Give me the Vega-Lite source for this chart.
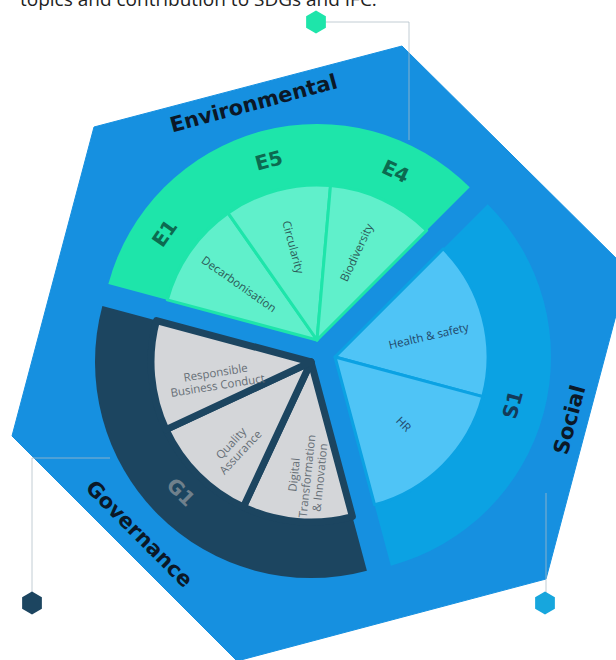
{
  "$schema": "https://vega.github.io/schema/vega-lite/v6.json",
  "width": 616,
  "height": 660,
  "padding": 0,
  "autosize": {"type": "none"},
  "background": "white",
  "config": {"view": {"stroke": null}},
  "datasets": {
    "hex": [
      {"i": 0, "x": -226, "y": 226},
      {"i": 1, "x": 82, "y": 307},
      {"i": 2, "x": 308, "y": 83},
      {"i": 3, "x": 226, "y": -226},
      {"i": 4, "x": -83, "y": -308},
      {"i": 5, "x": -308, "y": -83}
    ],
    "links": [
      {"line": "top", "i": 0, "x": -4, "y": 331},
      {"line": "top", "i": 1, "x": 89, "y": 331},
      {"line": "top", "i": 2, "x": 89, "y": 213},
      {"line": "gov", "i": 0, "x": -288, "y": -250},
      {"line": "gov", "i": 1, "x": -288, "y": -105},
      {"line": "gov", "i": 2, "x": -210, "y": -105},
      {"line": "soc", "i": 0, "x": 226, "y": -250},
      {"line": "soc", "i": 1, "x": 226, "y": -140}
    ],
    "markers": [
      {"pillar": "Environmental", "x": -4, "y": 331},
      {"pillar": "Governance", "x": -288, "y": -250},
      {"pillar": "Social", "x": 225, "y": -250}
    ],
    "pillars": [
      {"pillar": "Environmental", "cx": -3, "cy": 13, "a0": 285, "a1": 405, "mid": 345},
      {"pillar": "Social", "cx": 15, "cy": -4, "a0": 45, "a1": 165, "mid": 105},
      {"pillar": "Governance", "cx": -9, "cy": -9, "a0": 165, "a1": 285, "mid": 225}
    ],
    "topics": [
      {"pillar": "Environmental", "code": "E1", "topic": "Decarbonisation", "a0": 285, "a1": 325, "mid": 305},
      {"pillar": "Environmental", "code": "E5", "topic": "Circularity", "a0": 325, "a1": 365, "mid": 345},
      {"pillar": "Environmental", "code": "E4", "topic": "Biodiversity", "a0": 365, "a1": 405, "mid": 385},
      {"pillar": "Social", "code": "S1", "topic": "Health & safety", "a0": 45, "a1": 105, "mid": 78},
      {"pillar": "Social", "code": "S1", "topic": "HR", "a0": 105, "a1": 165, "mid": 135},
      {"pillar": "Governance", "code": "G1", "topic": "Digital\nTransformation\n& Innovation", "a0": 165, "a1": 205, "mid": 188},
      {"pillar": "Governance", "code": "G1", "topic": "Quality\nAssurance", "a0": 205, "a1": 245, "mid": 224},
      {"pillar": "Governance", "code": "G1", "topic": "Responsible\nBusiness Conduct", "a0": 245, "a1": 285, "mid": 263}
    ],
    "codes": [
      {"pillar": "Environmental", "code": "E1", "mid": 305},
      {"pillar": "Environmental", "code": "E5", "mid": 345},
      {"pillar": "Environmental", "code": "E4", "mid": 385},
      {"pillar": "Social", "code": "S1", "mid": 105},
      {"pillar": "Governance", "code": "G1", "mid": 225}
    ],
    "caption": [
      {"text": "topics and contribution to SDGs and IFC."}
    ]
  },
  "layer": [
    {
      "data": {"name": "hex"},
      "mark": {"type": "line", "interpolate": "linear-closed", "fill": "#1690e0", "stroke": "#1690e0", "strokeWidth": 1},
      "encoding": {
        "x": {"field": "x", "type": "quantitative", "scale": {"domain": [-320, 296], "nice": false, "zero": false}, "axis": null},
        "y": {"field": "y", "type": "quantitative", "scale": {"domain": [-307, 353], "nice": false, "zero": false}, "axis": null},
        "order": {"field": "i", "type": "quantitative"}
      }
    },
    {
      "data": {"name": "links"},
      "mark": {"type": "line", "color": "#aebcc6", "strokeWidth": 1, "opacity": 0.75},
      "encoding": {
        "x": {"field": "x", "type": "quantitative", "axis": null},
        "y": {"field": "y", "type": "quantitative", "axis": null},
        "detail": {"field": "line"},
        "order": {"field": "i", "type": "quantitative"}
      }
    },
    {
      "data": {"name": "markers"},
      "mark": {"type": "point", "shape": "M0,-1L0.866,-0.5L0.866,0.5L0,1L-0.866,0.5L-0.866,-0.5Z", "filled": true, "size": 520, "opacity": 1},
      "encoding": {
        "x": {"field": "x", "type": "quantitative", "axis": null},
        "y": {"field": "y", "type": "quantitative", "axis": null},
        "color": {"field": "pillar", "type": "nominal", "legend": null, "scale": {"domain": ["Environmental", "Social", "Governance"], "range": ["#1ee5aa", "#17a6dd", "#1c4560"]}}
      }
    },
    {
      "data": {"name": "pillars"},
      "mark": {"type": "arc", "radius": 216, "radius2": 0},
      "encoding": {
        "x": {"field": "cx", "type": "quantitative", "axis": null},
        "y": {"field": "cy", "type": "quantitative", "axis": null},
        "theta": {"field": "a0", "type": "quantitative", "scale": {"domain": [0, 360], "range": [0, 6.283185307179586], "zero": false, "nice": false}},
        "theta2": {"field": "a1"},
        "color": {"field": "pillar", "type": "nominal", "legend": null, "scale": {"domain": ["Environmental", "Social", "Governance"], "range": ["#1ee5aa", "#0ba2e3", "#1c4560"]}}
      }
    },
    {
      "data": {"name": "topics"},
      "transform": [
        {"filter": "datum.pillar === 'Environmental'"},
        {"lookup": "pillar", "from": {"data": {"name": "pillars"}, "key": "pillar", "fields": ["cx", "cy"]}}
      ],
      "mark": {"type": "arc", "radius": 155, "radius2": 0, "fill": "#60f0cb", "stroke": "#1ee5aa", "strokeWidth": 3, "strokeJoin": "round"},
      "encoding": {
        "x": {"field": "cx", "type": "quantitative", "axis": null},
        "y": {"field": "cy", "type": "quantitative", "axis": null},
        "theta": {"field": "a0", "type": "quantitative"},
        "theta2": {"field": "a1"}
      }
    },
    {
      "data": {"name": "topics"},
      "transform": [
        {"filter": "datum.pillar === 'Social'"},
        {"lookup": "pillar", "from": {"data": {"name": "pillars"}, "key": "pillar", "fields": ["cx", "cy"]}}
      ],
      "mark": {"type": "arc", "radius": 153, "radius2": 0, "fill": "#4fc4f6", "stroke": "#0ba2e3", "strokeWidth": 3, "strokeJoin": "round"},
      "encoding": {
        "x": {"field": "cx", "type": "quantitative", "axis": null},
        "y": {"field": "cy", "type": "quantitative", "axis": null},
        "theta": {"field": "a0", "type": "quantitative"},
        "theta2": {"field": "a1"}
      }
    },
    {
      "data": {"name": "topics"},
      "transform": [
        {"filter": "datum.pillar === 'Governance'"},
        {"lookup": "pillar", "from": {"data": {"name": "pillars"}, "key": "pillar", "fields": ["cx", "cy"]}}
      ],
      "mark": {"type": "arc", "radius": 160, "radius2": 0, "fill": "#d4d6d9", "stroke": "#1c4560", "strokeWidth": 7, "strokeJoin": "round"},
      "encoding": {
        "x": {"field": "cx", "type": "quantitative", "axis": null},
        "y": {"field": "cy", "type": "quantitative", "axis": null},
        "theta": {"field": "a0", "type": "quantitative"},
        "theta2": {"field": "a1"}
      }
    },
    {
      "data": {"name": "codes"},
      "transform": [
        {"lookup": "pillar", "from": {"data": {"name": "pillars"}, "key": "pillar", "fields": ["cx", "cy"]}}
      ],
      "mark": {"type": "text", "radius": 185, "font": "DejaVu Sans", "fontWeight": "bold", "fontSize": 20, "align": "center", "baseline": "middle"},
      "encoding": {
        "x": {"field": "cx", "type": "quantitative", "axis": null},
        "y": {"field": "cy", "type": "quantitative", "axis": null},
        "theta": {"field": "mid", "type": "quantitative"},
        "text": {"field": "code"},
        "angle": {"field": "code", "type": "nominal", "scale": {"type": "ordinal", "domain": ["E1", "E5", "E4", "S1", "G1"], "range": [-55, -15, 25, -75, 45]}},
        "color": {"field": "code", "type": "nominal", "legend": null, "scale": {"domain": ["E1", "E5", "E4", "S1", "G1"], "range": ["#0c6a50", "#0c6a50", "#0c6a50", "#143b5a", "#6f808c"]}}
      }
    },
    {
      "data": {"name": "topics"},
      "transform": [
        {"filter": "datum.code !== 'G1' || datum.mid > 250"},
        {"lookup": "pillar", "from": {"data": {"name": "pillars"}, "key": "pillar", "fields": ["cx", "cy"]}}
      ],
      "mark": {"type": "text", "radius": 96, "font": "Open Sans", "fontSize": 11.5, "lineBreak": "\n", "lineHeight": 13, "align": "center", "baseline": "middle"},
      "encoding": {
        "x": {"field": "cx", "type": "quantitative", "axis": null},
        "y": {"field": "cy", "type": "quantitative", "axis": null},
        "theta": {"field": "mid", "type": "quantitative"},
        "text": {"field": "topic"},
        "angle": {"field": "topic", "type": "nominal", "scale": {"type": "ordinal", "domain": ["Decarbonisation", "Circularity", "Biodiversity", "Health & safety", "HR", "Responsible\nBusiness Conduct"], "range": [35, 75, -65, -13, 45, -9]}},
        "color": {"field": "pillar", "type": "nominal", "legend": null, "scale": {"domain": ["Environmental", "Social", "Governance"], "range": ["#2c5a58", "#22486a", "#666e76"]}}
      }
    },
    {
      "data": {"name": "topics"},
      "transform": [
        {"filter": "datum.code === 'G1' && datum.mid < 250"},
        {"lookup": "pillar", "from": {"data": {"name": "pillars"}, "key": "pillar", "fields": ["cx", "cy"]}}
      ],
      "mark": {"type": "text", "radius": 114, "font": "Open Sans", "fontSize": 11.5, "lineBreak": "\n", "lineHeight": 13, "align": "center", "baseline": "middle", "color": "#666e76"},
      "encoding": {
        "x": {"field": "cx", "type": "quantitative", "axis": null},
        "y": {"field": "cy", "type": "quantitative", "axis": null},
        "theta": {"field": "mid", "type": "quantitative"},
        "text": {"field": "topic"},
        "angle": {"field": "topic", "type": "nominal", "scale": {"type": "ordinal", "domain": ["Digital\nTransformation\n& Innovation", "Quality\nAssurance"], "range": [-84, -47]}}
      }
    },
    {
      "data": {"name": "pillars"},
      "mark": {"type": "text", "radius": 244, "font": "DejaVu Sans", "fontWeight": "bold", "fontSize": 21, "align": "center", "baseline": "middle", "color": "#0b1827"},
      "encoding": {
        "x": {"field": "cx", "type": "quantitative", "axis": null},
        "y": {"field": "cy", "type": "quantitative", "axis": null},
        "theta": {"field": "mid", "type": "quantitative"},
        "text": {"field": "pillar"},
        "angle": {"field": "pillar", "type": "nominal", "scale": {"type": "ordinal", "domain": ["Environmental", "Social", "Governance"], "range": [-15, -75, 45]}}
      }
    },
    {
      "data": {"name": "caption"},
      "mark": {"type": "text", "font": "Open Sans", "fontSize": 19, "align": "left", "baseline": "alphabetic", "color": "#222222"},
      "encoding": {
        "x": {"datum": -300, "type": "quantitative", "axis": null},
        "y": {"datum": 347, "type": "quantitative", "axis": null},
        "text": {"field": "text"}
      }
    }
  ],
  "resolve": {"scale": {"color": "independent", "angle": "independent"}}
}
